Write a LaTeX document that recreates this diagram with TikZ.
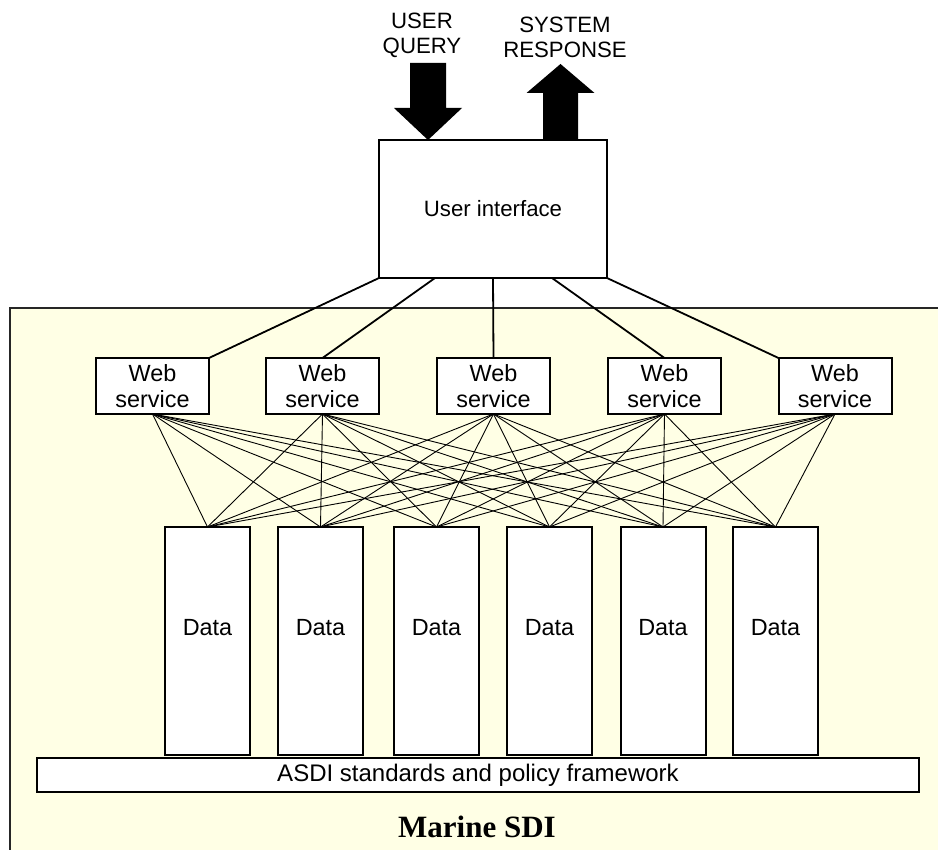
\documentclass[tikz,border=0pt]{standalone}
\usepackage{fontspec}
\setmainfont{Liberation Sans}
\newfontfamily\sdiserif{Liberation Serif}
\usepackage{tikz}
\usetikzlibrary{positioning}

\definecolor{sdiyellow}{RGB}{255,255,229}

\tikzset{
  box/.style={draw,line width=1pt,fill=white,inner sep=0pt,outer sep=0pt,align=center,
    font=\fontsize{11.7}{13}\selectfont},
  uibox/.style={box,minimum width=114pt,minimum height=69pt,font=\fontsize{11.1}{13}\selectfont},
  webbox/.style={box,minimum width=56.5pt,minimum height=28pt},
  databox/.style={box,minimum width=42.5pt,minimum height=114pt},
  framebox/.style={box,minimum width=441pt,minimum height=17pt,font=\fontsize{12}{13}\selectfont},
  link/.style={line width=0.9pt},
  fan/.style={line width=0.45pt},
  lbl/.style={align=center,inner sep=0pt,font=\fontsize{11.1}{12.5}\selectfont}
}

\begin{document}
\begin{tikzpicture}[x=0.5pt,y=-0.5pt]
\useasboundingbox (0,0) rectangle (938,850);
\clip (0,0) rectangle (938,850);

\draw[fill=sdiyellow,line width=1pt,draw=black!85] (10,308) rectangle (960,880);

\node[uibox] (ui) at (493,209) {User interface};

\foreach \i/\x in {1/152.5,2/322.5,3/493.5,4/664.5,5/835}
  \node[webbox] (ws\i) at (\x,386) {Web\\service};

\foreach \j/\x in {1/207.5,2/320.5,3/436.5,4/549.5,5/663,6/775.5}
  \node[databox,label={[yshift=6.5pt,font=\fontsize{11.7}{13}\selectfont]center:Data}] (d\j) at (\x,641) {};

\node[framebox] (asdi) at (478,775) {ASDI standards and policy framework};
\node[font=\sdiserif\bfseries\fontsize{15.5}{18}\selectfont] (marine) at (477,827) {Marine SDI};

\draw[link] (ui.south west) -- (ws1.north east);
\draw[link] ([xshift=-29pt]ui.south) -- (ws2.north);
\draw[link] (ui.south) -- (ws3.north);
\draw[link] ([xshift=29.5pt]ui.south) -- (ws4.north);
\draw[link] (ui.south east) -- (ws5.north west);

\foreach \i in {1,...,5}
  \foreach \j in {1,...,6}
    \draw[fan] (ws\i.south) -- (d\j.north);

\coordinate (qtip) at ([xshift=-32.5pt]ui.north);
\coordinate (rbase) at ([xshift=33.75pt]ui.north);
\fill (qtip) -- ++(-34,-32) -- ++(16,0) -- ++(0,-45) -- ++(36,0) -- ++(0,45) -- ++(16,0) -- cycle;
\fill ([xshift=-8.75pt]rbase) -- ++(0,-47) -- ++(-16.5,0) -- ++(34,-29) -- ++(34,29) -- ++(-16.5,0) -- ++(0,47) -- cycle;

\node[lbl] (query) at (422,35) {USER\\QUERY};
\node[lbl] (response) at (565,37) {SYSTEM\\RESPONSE};
\end{tikzpicture}
\end{document}
